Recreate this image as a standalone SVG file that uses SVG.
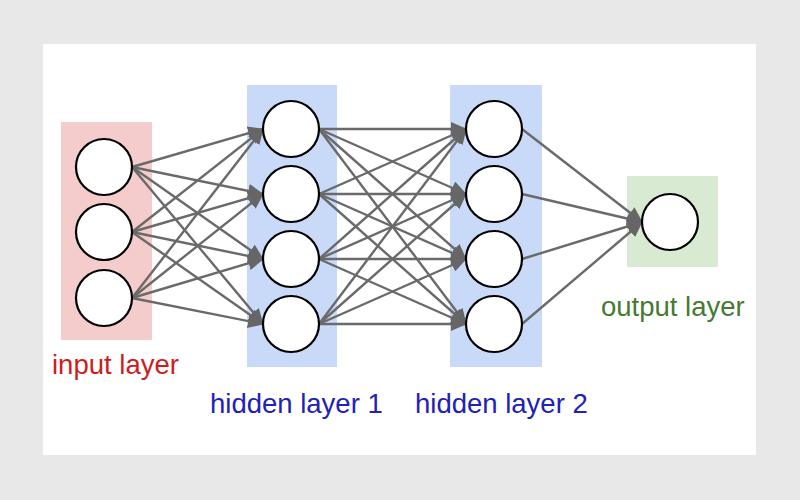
<svg xmlns="http://www.w3.org/2000/svg" width="800" height="500" viewBox="0 0 800 500">
<defs>
<marker id="ah" markerWidth="16" markerHeight="14" refX="15" refY="7" orient="auto" markerUnits="userSpaceOnUse"><path d="M0,0 L16,7 L0,14 z" fill="#666"/></marker>
<style>
.e{stroke:#6a6a6a;stroke-width:2.4;fill:none;marker-end:url(#ah)}
.n{fill:#fff;stroke:#000;stroke-width:2.2}
.t{font-family:"Liberation Sans",Arial,sans-serif;font-size:27.5px}
</style>
</defs>
<rect width="800" height="500" fill="#e8e8e8"/>
<rect x="43" y="44" width="713" height="411" fill="#fff"/>
<g id="layers">
<rect x="61" y="122" width="91" height="218" fill="#f4cccc"/>
<rect x="247" y="85" width="90" height="282" fill="#c9daf8"/>
<rect x="450" y="85" width="92" height="282" fill="#c9daf8"/>
<rect x="627" y="176" width="91" height="91" fill="#d9ead3"/>
</g>
<g id="connectors">
<line class="e" x1="132" y1="167" x2="263" y2="129"/>
<line class="e" x1="132" y1="167" x2="263" y2="194"/>
<line class="e" x1="132" y1="167" x2="263" y2="259"/>
<line class="e" x1="132" y1="167" x2="263" y2="324"/>
<line class="e" x1="132" y1="232" x2="263" y2="129"/>
<line class="e" x1="132" y1="232" x2="263" y2="194"/>
<line class="e" x1="132" y1="232" x2="263" y2="259"/>
<line class="e" x1="132" y1="232" x2="263" y2="324"/>
<line class="e" x1="132" y1="298" x2="263" y2="129"/>
<line class="e" x1="132" y1="298" x2="263" y2="194"/>
<line class="e" x1="132" y1="298" x2="263" y2="259"/>
<line class="e" x1="132" y1="298" x2="263" y2="324"/>
<line class="e" x1="319" y1="129" x2="466" y2="129"/>
<line class="e" x1="319" y1="129" x2="466" y2="194"/>
<line class="e" x1="319" y1="129" x2="466" y2="259"/>
<line class="e" x1="319" y1="129" x2="466" y2="324"/>
<line class="e" x1="319" y1="194" x2="466" y2="129"/>
<line class="e" x1="319" y1="194" x2="466" y2="194"/>
<line class="e" x1="319" y1="194" x2="466" y2="259"/>
<line class="e" x1="319" y1="194" x2="466" y2="324"/>
<line class="e" x1="319" y1="259" x2="466" y2="129"/>
<line class="e" x1="319" y1="259" x2="466" y2="194"/>
<line class="e" x1="319" y1="259" x2="466" y2="259"/>
<line class="e" x1="319" y1="259" x2="466" y2="324"/>
<line class="e" x1="319" y1="324" x2="466" y2="129"/>
<line class="e" x1="319" y1="324" x2="466" y2="194"/>
<line class="e" x1="319" y1="324" x2="466" y2="259"/>
<line class="e" x1="319" y1="324" x2="466" y2="324"/>
<line class="e" x1="522" y1="129" x2="642" y2="222"/>
<line class="e" x1="522" y1="194" x2="642" y2="222"/>
<line class="e" x1="522" y1="259" x2="642" y2="222"/>
<line class="e" x1="522" y1="324" x2="642" y2="222"/>
</g>
<g id="input">
<circle class="n" cx="104" cy="167" r="28"/>
<circle class="n" cx="104" cy="232" r="28"/>
<circle class="n" cx="104" cy="298" r="28"/>
<text class="t" x="52" y="374" fill="#cc1e1e">input layer</text>
</g>
<g id="hidden1">
<circle class="n" cx="291" cy="129" r="28"/>
<circle class="n" cx="291" cy="194" r="28"/>
<circle class="n" cx="291" cy="259" r="28"/>
<circle class="n" cx="291" cy="324" r="28"/>
<text class="t" x="210" y="413" fill="#2121b8">hidden layer 1</text>
</g>
<g id="hidden2">
<circle class="n" cx="494" cy="129" r="28"/>
<circle class="n" cx="494" cy="194" r="28"/>
<circle class="n" cx="494" cy="259" r="28"/>
<circle class="n" cx="494" cy="324" r="28"/>
<text class="t" x="415" y="413" fill="#2121b8">hidden layer 2</text>
</g>
<g id="output">
<circle class="n" cx="670" cy="222" r="28"/>
<text class="t" x="601" y="316" fill="#467a30">output layer</text>
</g>
</svg>
